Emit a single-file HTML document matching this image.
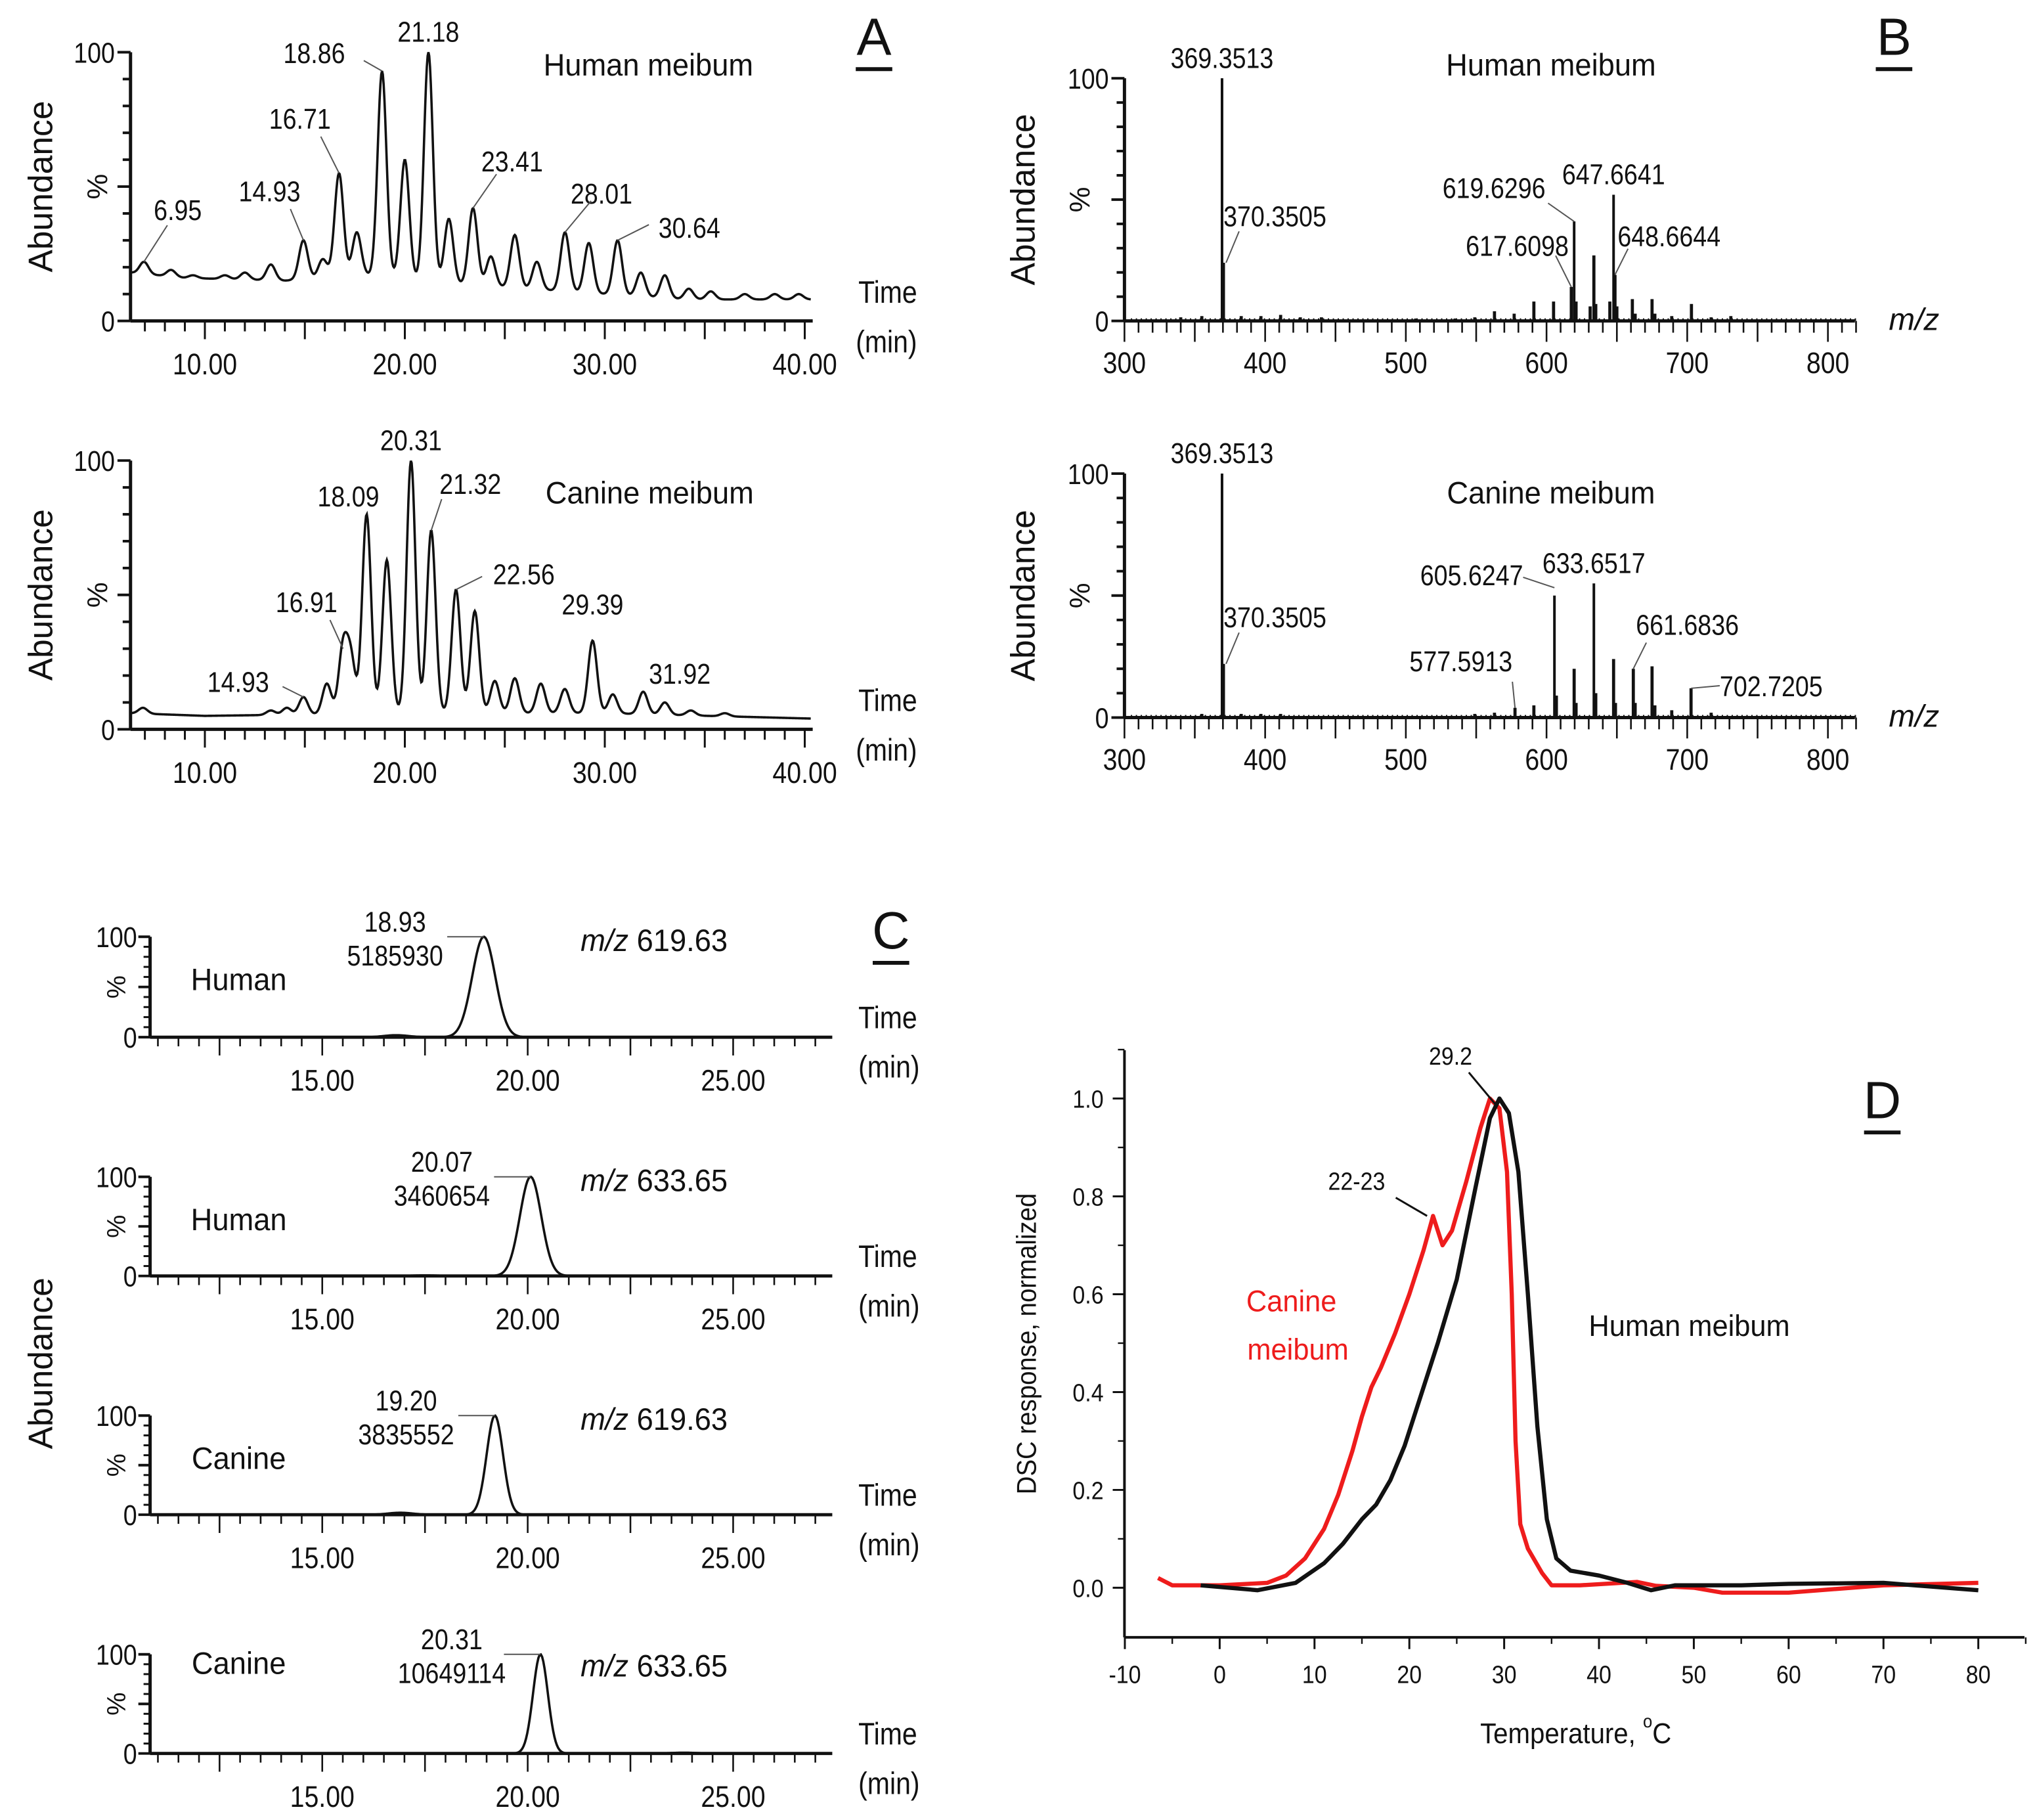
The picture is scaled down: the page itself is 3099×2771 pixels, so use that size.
<!DOCTYPE html>
<html><head><meta charset="utf-8"><style>
html,body{margin:0;padding:0;background:#fff;}
svg{display:block;}
text{font-family:"Liberation Sans Narrow","Liberation Sans",sans-serif;fill:#111;}
.w{font-family:"Liberation Sans",sans-serif;}
</style></head><body>
<svg id="fig" xmlns="http://www.w3.org/2000/svg" width="3099" height="2771" viewBox="0 0 1560 1395"></svg>
<script>
// ---------- DATA ----------
const aHumanPeakTimes = [6.95,8.3,9.4,11.0,12.0,13.3,14.93,15.9,16.71,17.6,18.86,20.0,21.18,22.2,23.41,24.3,25.5,26.6,28.01,29.2,30.64,31.8,33.0,34.2,35.3,37.0,38.5,39.7];
const aHumanPeakHeights = [22,19,17,17,18,21,30,23,55,33,93,60,100,38,42,24,32,22,33,29,30,18,17,12,11,10,10,10];
const aHumanBaseT = [6.3,9,14,18,22,26,30,34,40.3];
const aHumanBaseV = [18,16,15,17,14,12,10,8,8];
const aHumanLabels = ["6.95","14.93","16.71","18.86","21.18","23.41","28.01","30.64"];
const aCaninePeakTimes = [6.9,13.3,14.1,14.93,16.1,16.91,17.3,18.09,19.1,20.31,21.32,22.56,23.5,24.5,25.5,26.8,28.0,29.39,30.4,31.92,33.0,34.3,36.0];
const aCaninePeakHeights = [8,7,8,12,17,30,26,80,63,100,74,52,44,18,19,17,15,33,13,14,10,7,6];
const aCanineBaseT = [6.3,10,20,30,40.3];
const aCanineBaseV = [6,5,6,6,4];
const aCanineLabels = ["14.93","16.91","18.09","20.31","21.32","22.56","29.39","31.92"];
const bHumanMz = [340,355,369.35,370.35,383,397,411,425,440,507,535,549,563,577,591,605,617.61,619.63,621,631,633.65,635,645,647.66,648.66,650,661,663,675,677,689,703,717,731];
const bHumanInt = [1.5,2,100,24,2,2,2.5,1.5,1.5,1,1,1.5,4,3,8,8,14,41,8,6,27,7,8,52,19,6,9,3,9,3,2,7,1.5,2];
const bCanineMz = [355,369.35,370.35,383,397,411,549,563,577.59,591,605.62,607,619.63,621,633.65,635,647.66,649,661.68,663,675,677,689,702.72,717];
const bCanineInt = [1.5,100,22,1.5,1.5,1.5,1.5,2,4,5,50,9,20,6,55,10,24,6,20,6,21,5,3,12,2];
const cTraceNames = ["Human","Human","Canine","Canine"];
const cTraceMz = ["619.63","633.65","619.63","633.65"];
const cPeakTimes = [18.93,20.07,19.20,20.31];
const cPeakAreas = ["5185930","3460654","3835552","10649114"];
const cPeakWidths = [0.28,0.26,0.2,0.18];
const cMinorTime = [16.8,17.5,16.9,23.8];
const cMinorHeight = [2,0.6,2,0.8];
const dHumanT = [-2,4,8,11,13,15,16.5,18,19.5,21,23,25,27,28.5,29.5,30.5,31.5,32.5,33.5,34.5,35.5,37,40,43,45.5,48,55,60,70,80];
const dHumanV = [0.005,-0.005,0.01,0.05,0.09,0.14,0.17,0.22,0.29,0.38,0.5,0.63,0.82,0.96,1.0,0.97,0.85,0.6,0.33,0.14,0.06,0.035,0.025,0.01,-0.005,0.005,0.005,0.008,0.01,-0.005];
const dCanineT = [-6.5,-5,0,5,7,9,11,12.5,14,15,16,17,18.5,20,21.5,22.5,23.5,24.5,26,27.5,28.5,29.5,30.3,30.8,31.2,31.7,32.5,34,35,38,44,46,50,53,60,70,80];
const dCanineV = [0.02,0.005,0.005,0.01,0.025,0.06,0.12,0.19,0.28,0.35,0.41,0.45,0.52,0.6,0.69,0.76,0.7,0.73,0.83,0.94,1.0,0.98,0.85,0.6,0.3,0.13,0.08,0.03,0.005,0.005,0.012,0.004,0.0,-0.01,-0.01,0.005,0.01];
const dXTicks = [-10,0,10,20,30,40,50,60,70,80];
const dYTicks = [0,0.2,0.4,0.6,0.8,1.0];

// ---------- HELPERS ----------
const NS="http://www.w3.org/2000/svg";
const svg=document.getElementById('fig');
function el(tag,attrs,parent){const e=document.createElementNS(NS,tag);for(const k in attrs)e.setAttribute(k,attrs[k]);(parent||svg).appendChild(e);return e;}
function grp(name,parent){const g=el('g',{},parent);


return g;}
function txt(g,x,y,s,size,anchor,name,extra,sq){
  const ex=Object.assign({'font-size':size,'text-anchor':anchor||'start'},extra||{});
  let t;
  if(sq&&!ex.transform){ex.x=0;ex.y=0;ex.transform=`translate(${x},${y}) scale(${sq},1)`;}
  else{ex.x=ex.transform?0:x;ex.y=ex.transform?0:y;}
  t=el('text',ex,g);t.textContent=s;
  
  
  return t;}
function line(g,x1,y1,x2,y2,w,col){return el('line',{x1:x1,y1:y1,x2:x2,y2:y2,stroke:col||'#111','stroke-width':w||1},g);}
function interp(ts,vs,t){if(t<=ts[0])return vs[0];for(let i=1;i<ts.length;i++){if(t<=ts[i]){const f=(t-ts[i-1])/(ts[i]-ts[i-1]);return vs[i-1]+f*(vs[i]-vs[i-1]);}}return vs[vs.length-1];}
function letter(x,y,s){const g=grp('panel-label-'+s.toLowerCase());txt(g,x,y,s,40,'middle','panel-letter-'+s.toLowerCase(),{class:'w'});line(g,x-14,y+11,x+14,y+11,3);}
const SQ=0.86;

// ---------- PANEL A ----------
function chrom(name,y0,y100,pT,pH,bT,bV,labels,labelOff,title,titlePos){
  const g=grp(name);
  const X0=100,X1=623;
  const sx=t=>157+(t-10)*15.33;
  const sy=v=>y0-(v/100)*(y0-y100);
  line(g,X0,y0,X1,y0,2.5);line(g,X0,y0,X0,y100,2.5);
  for(let v=0;v<=100;v+=10){line(g,X0-(v%50===0?10:6),sy(v),X0,sy(v),2);}
  txt(g,X0-12,y100+8,'100',22,'end','y-tick-100',null,SQ);txt(g,X0-12,y0+8,'0',22,'end','y-tick-0',null,SQ);
  for(let t=7;t<=40;t++){const L=(t%5===0)?14:8;line(g,sx(t),y0,sx(t),y0+L,1.5);}
  [10,20,30,40].forEach(t=>txt(g,sx(t),y0+41,t.toFixed(2),23,'middle','x-tick-'+t,null,SQ));
  txt(g,658,y0-14,'Time',24,'start','x-axis-title',null,SQ);txt(g,656,y0+24,'(min)',24,'start','x-axis-unit',null,SQ);
  txt(g,0,0,'Abundance',26,'middle','y-axis-title',{class:'w',transform:`translate(40,${(y0+y100)/2}) rotate(-90)`});
  txt(g,0,0,'%',22,'middle','y-axis-percent',{transform:`translate(82,${(y0+y100)/2}) rotate(-90)`});
  let d='';
  for(let t=6.3;t<=40.3;t+=0.04){
    const b=interp(bT,bV,t);let v=b;
    for(let i=0;i<pT.length;i++){const s=0.22;const a=Math.max(0,pH[i]-b);v+=a*Math.exp(-((t-pT[i])**2)/(2*s*s));}
    v=Math.min(v,100.5);
    d+=(d?'L':'M')+sx(t).toFixed(2)+','+sy(v).toFixed(2);
  }
  const p=el('path',{d:d,fill:'none',stroke:'#111','stroke-width':1.8},g);
  
  
  labels.forEach((lab,i)=>{
    const t=parseFloat(lab);const idx=pT.indexOf(t);const h=pH[idx];
    const px=sx(t),py=sy(h);const o=labelOff[i];
    txt(g,px+o[0],py+o[1],lab,22,'middle','peak-label-'+lab,null,SQ);
    if(o[2])line(g,px+o[2][0],py+o[2][1],px,py,1,'#555');
  });
  txt(g,titlePos[0],titlePos[1],title,24,'middle','trace-title',{class:'w'},0.95);
}
chrom('panel-a-human',246,40,aHumanPeakTimes,aHumanPeakHeights,aHumanBaseT,aHumanBaseV,aHumanLabels,
 [[26,-32,[18,-28]],[-26,-30,[-10,-24]],[-30,-34,[-14,-28]],[-52,-6,[-14,-8]],[0,-8,null],[30,-28,[18,-26]],[28,-22,[20,-24]],[55,-2,[24,-12]]],
 'Human meibum',[497,58]);
chrom('panel-a-canine',559,353,aCaninePeakTimes,aCaninePeakHeights,aCanineBaseT,aCanineBaseV,aCanineLabels,
 [[-50,-4,[-16,-8]],[-28,-28,[-10,-22]],[-14,-6,null],[0,-8,null],[30,-28,[8,-24]],[52,-4,[20,-10]],[0,-20,null],[28,-6,null]],
 'Canine meibum',[498,386]);

// ---------- PANEL B ----------
function spectrum(name,y0,y100,mz,inten,labels,title,titleY){
  const g=grp(name);
  const X0=862,X1=1422;
  const sx=m=>862+(m-300)*1.0786;
  const sy=v=>y0-(v/100)*(y0-y100);
  line(g,X0,y0,X1,y0,2.5);line(g,X0,y0,X0,y100,2.5);
  for(let v=0;v<=100;v+=10){line(g,X0-(v%50===0?10:6),sy(v),X0,sy(v),2);}
  txt(g,X0-12,y100+8,'100',22,'end','y-tick-100',null,SQ);txt(g,X0-12,y0+8,'0',22,'end','y-tick-0',null,SQ);
  for(let m=300;m<=820;m+=10){const L=(m%50===0)?16:9;line(g,sx(m),y0,sx(m),y0+L,1.3);}
  [300,400,500,600,700,800].forEach(m=>txt(g,sx(m),y0+40,String(m),23,'middle','x-tick-'+m,null,SQ));
  txt(g,1448,y0+7,'m/z',24,'start','x-axis-title',{'font-style':'italic'});
  txt(g,0,0,'Abundance',26,'middle','y-axis-title',{class:'w',transform:`translate(793,${(y0+y100)/2}) rotate(-90)`});
  txt(g,0,0,'%',22,'middle','y-axis-percent',{transform:`translate(835,${(y0+y100)/2}) rotate(-90)`});
  mz.forEach((m,i)=>{const l=line(g,sx(m),y0,sx(m),sy(inten[i]),inten[i]>30?2:2.4);
    
    });
  for(let m=305;m<820;m+=3.5){line(g,sx(m),y0,sx(m),y0-2,1);}
  labels.forEach(o=>{const i=mz.indexOf(o[0]);const px=sx(o[0]),py=sy(inten[i]);
    txt(g,px+o[2],py+o[3],o[1],22,o[4]||'middle','peak-label-'+o[1],null,SQ);
    if(o[5])line(g,px+o[5][0],py+o[5][1],px+o[5][2],py+o[5][3],1,'#555');});
  txt(g,1189,titleY,title,24,'middle','trace-title',{class:'w'},0.95);
}
spectrum('panel-b-human',246,60,bHumanMz,bHumanInt,[
 [369.35,'369.3513',0,-8],
 [370.35,'370.3505',0,-28,'start',[2,0,12,-24]],
 [619.63,'619.6296',-22,-18,'end',[0,0,-20,-14]],
 [617.61,'617.6098',-2,-24,'end',[0,0,-12,-24]],
 [647.66,'647.6641',0,-8],
 [648.66,'648.6644',2,-22,'start',[0,0,10,-20]]],'Human meibum',58);
spectrum('panel-b-canine',550,363,bCanineMz,bCanineInt,[
 [369.35,'369.3513',0,-8],
 [370.35,'370.3505',0,-28,'start',[2,0,12,-24]],
 [605.62,'605.6247',-24,-8,'end',[-24,-14,0,-6]],
 [633.65,'633.6517',0,-8],
 [661.68,'661.6836',2,-26,'start',[0,0,10,-20]],
 [577.59,'577.5913',-2,-28,'end',[-2,-20,0,0]],
 [702.72,'702.7205',22,6,'start',[0,0,22,-2]]],'Canine meibum',386);

// ---------- PANEL C ----------
const cY0=[795,978,1161,1344];
const cY100=[718,902,1085,1268];
cPeakTimes.forEach((pt,k)=>{
  const g=grp('panel-c-trace-'+(k+1));
  const y0=cY0[k],y100=cY100[k];
  const X0=115,X1=638;
  const sx=t=>247+(t-15)*31.5;
  const sy=v=>y0-(v/100)*(y0-y100);
  line(g,X0,y0,X1,y0,2.5);line(g,X0,y0,X0,y100,2.5);
  [0,50,100].forEach(v=>line(g,X0-9,sy(v),X0,sy(v),2));
  for(let v=10;v<100;v+=10)line(g,X0-5,sy(v),X0,sy(v),1.5);
  txt(g,X0-10,y100+8,'100',22,'end','y-tick-100',null,SQ);txt(g,X0-10,y0+8,'0',22,'end','y-tick-0',null,SQ);
  txt(g,0,0,'%',20,'middle','y-axis-percent',{transform:`translate(96,${(y0+y100)/2}) rotate(-90)`});
  for(let t=11;t<=27;t+=0.5){const L=(t%2.5===0)?14:7;line(g,sx(t),y0,sx(t),y0+L,1.3);}
  [15,20,25].forEach(t=>txt(g,sx(t),y0+41,t.toFixed(2),23,'middle','x-tick-'+t,null,SQ));
  txt(g,658,y0-7,'Time',24,'start','x-axis-title',null,SQ);txt(g,658,y0+31,'(min)',24,'start','x-axis-unit',null,SQ);
  let d='';
  for(let t=11.2;t<=27;t+=0.03){let v=100*Math.exp(-((t-pt)**2)/(2*cPeakWidths[k]**2))+cMinorHeight[k]*Math.exp(-((t-cMinorTime[k])**2)/(2*0.3*0.3));
    d+=(d?'L':'M')+sx(t).toFixed(2)+','+sy(v).toFixed(2);}
  const p=el('path',{d:d,fill:'none',stroke:'#111','stroke-width':1.8},g);
  
  
  const px=sx(pt);
  txt(g,px-68,y100-4,pt.toFixed(2),22,'middle','peak-time-label',null,SQ);
  txt(g,px-68,y100+22,cPeakAreas[k],22,'middle','peak-area-label',null,SQ);
  line(g,px-28,y100,px,y100,1,'#555');
  txt(g,183,y100+(k===3?15:41),cTraceNames[k],24,'middle','species-label',{class:'w'},0.95);
  const m=txt(g,445,y100+(k===3?17:11),'',24,'start','mz-label',{class:'w'},0.95);
  const i1=el('tspan',{'font-style':'italic'},m);i1.textContent='m/z';
  const i2=el('tspan',{},m);i2.textContent=' '+cTraceMz[k];
});
(function(){const g=grp('panel-c-axis');
txt(g,0,0,'Abundance',26,'middle','panel-c-y-axis-title',{class:'w',transform:'translate(40,1045) rotate(-90)'});})();

// ---------- PANEL D ----------
(function(){
  const g=grp('panel-d-dsc');
  const sx=T=>935+T*7.27;
  const sy=v=>1217-v*375;
  line(g,862,1255,1552,1255,2);line(g,862,805,862,1255,2);
  dXTicks.forEach(T=>{line(g,sx(T),1255,sx(T),1264,1.5);txt(g,sx(T),1290,String(T),19,'middle','x-tick-'+T,{class:'w'},0.9);});
  for(let T=-5;T<=85;T+=10)line(g,sx(T),1255,sx(T),1260,1.2);
  dYTicks.forEach(v=>{line(g,853,sy(v),862,sy(v),1.5);txt(g,846,sy(v)+7,v.toFixed(1),19,'end','y-tick-'+v,{class:'w'},0.9);});
  for(let v=0.1;v<1.1;v+=0.2)line(g,857,sy(v),862,sy(v),1.2);
  const xt=txt(g,1208,1336,'',22,'middle','x-axis-title',{class:'w'},0.92);
  const s1=el('tspan',{},xt);s1.textContent='Temperature, ';
  const s2=el('tspan',{'font-size':14,dy:-12},xt);s2.textContent='o';
  const s3=el('tspan',{dy:12},xt);s3.textContent='C';
  txt(g,0,0,'DSC response, normalized',21,'middle','y-axis-title',{class:'w',transform:'translate(794,1030) rotate(-90) scale(0.92,1)'});
  function curve(T,V,col,name){let d='';T.forEach((t,i)=>{d+=(i?'L':'M')+sx(t).toFixed(2)+','+sy(V[i]).toFixed(2);});
    const p=el('path',{d:d,fill:'none',stroke:col,'stroke-width':3.2,'stroke-linejoin':'round'},g);
    
    }
  curve(dCanineT,dCanineV,'#ee1c1c','canine-curve');
  curve(dHumanT,dHumanV,'#111','human-curve');
  txt(g,1112,816,'29.2',19,'middle','peak-label-29-2',{class:'w'},0.9);
  line(g,1126,822,1146,846,1.5);
  txt(g,1040,912,'22-23',19,'middle','peak-label-22-23',{class:'w'},0.9);
  line(g,1070,918,1094,932,1.5);
  txt(g,990,1005,'Canine',23,'middle','canine-label',{class:'w',style:'fill:#ee1c1c'},0.95);
  txt(g,995,1042,'meibum',23,'middle','canine-label-2',{class:'w',style:'fill:#ee1c1c'},0.95);
  txt(g,1295,1024,'Human meibum',23,'middle','human-label',{class:'w'},0.95);
})();

letter(670,42,'A');letter(1452,42,'B');letter(683,727,'C');letter(1443,857,'D');
</script>
</body></html>
